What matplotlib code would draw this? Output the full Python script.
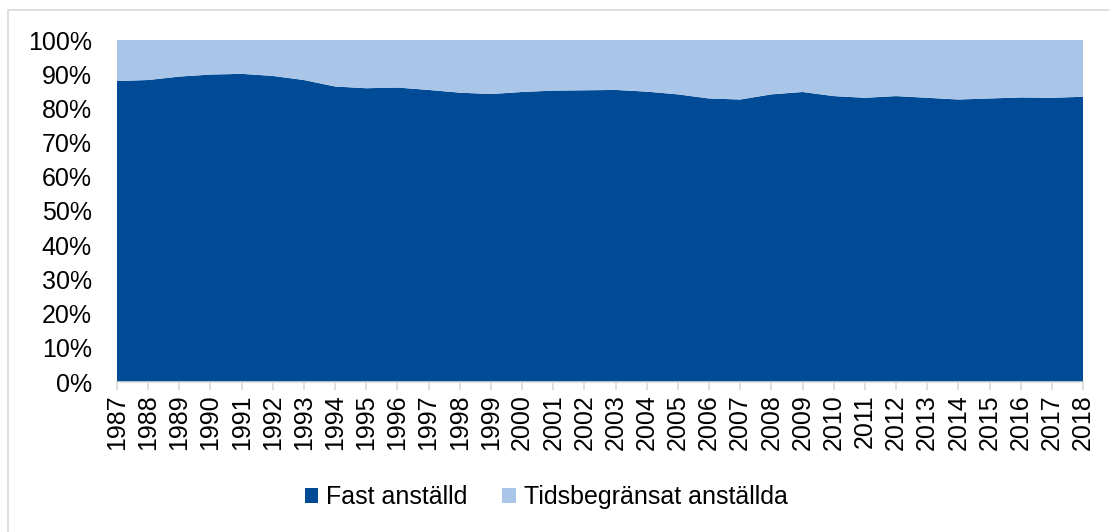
import numpy as np
import matplotlib.pyplot as plt
from matplotlib.patches import Rectangle

plt.rcParams['font.family'] = ['Liberation Sans', 'DejaVu Sans']

# years and share of permanent employees (percent)
years = list(range(1987, 2019))
fast = [88.0, 88.3, 89.3, 89.9, 90.1, 89.5, 88.3, 86.4, 85.9, 86.1,
        85.4, 84.6, 84.2, 84.8, 85.2, 85.3, 85.4, 84.9, 84.1, 82.9,
        82.6, 84.1, 84.8, 83.6, 83.1, 83.6, 83.1, 82.6, 82.9, 83.2,
        83.1, 83.4]
tids = [100 - v for v in fast]

dark = '#004A96'
light = '#A9C6E8'

fig = plt.figure(figsize=(11.09, 5.32), dpi=100)
# outer chart border (only left/top visible in the reference)
fig.patches.append(Rectangle((8 / 1109, -0.1), 1.2, 1 - 10 / 532 + 0.1,
                             transform=fig.transFigure, fill=False,
                             edgecolor='#D9D9D9', linewidth=1.2))

ax = fig.add_axes([117 / 1109, 1 - 382 / 532, (1083 - 117) / 1109, (382 - 40) / 532])
x = np.arange(len(years))
ax.stackplot(x, fast, tids, colors=[dark, light], labels=['Fast anställd', 'Tidsbegränsat anställda'])

ax.set_xlim(0, len(years) - 1)
ax.set_ylim(0, 100)
ax.set_yticks(range(0, 101, 10))
ax.set_yticklabels([f'{v}%' for v in range(0, 101, 10)])
ax.set_xticks(x)
ax.set_xticklabels([str(y) for y in years], rotation=90)
ax.tick_params(axis='y', length=0, labelsize=18, pad=18)
ax.tick_params(axis='x', length=6, color='#D9D9D9', width=1.2, labelsize=18, pad=3)
for s in ['top', 'right', 'left']:
    ax.spines[s].set_visible(False)
ax.spines['bottom'].set_color('#D9D9D9')
ax.spines['bottom'].set_linewidth(1.2)

leg = fig.legend(loc='center', bbox_to_anchor=(546 / 1109, 1 - 497 / 532), ncol=2,
                 frameon=False, fontsize=18, handlelength=0.55, handleheight=0.55,
                 handletextpad=0.3, columnspacing=1.4)

fig.savefig('out.png', dpi=100)
